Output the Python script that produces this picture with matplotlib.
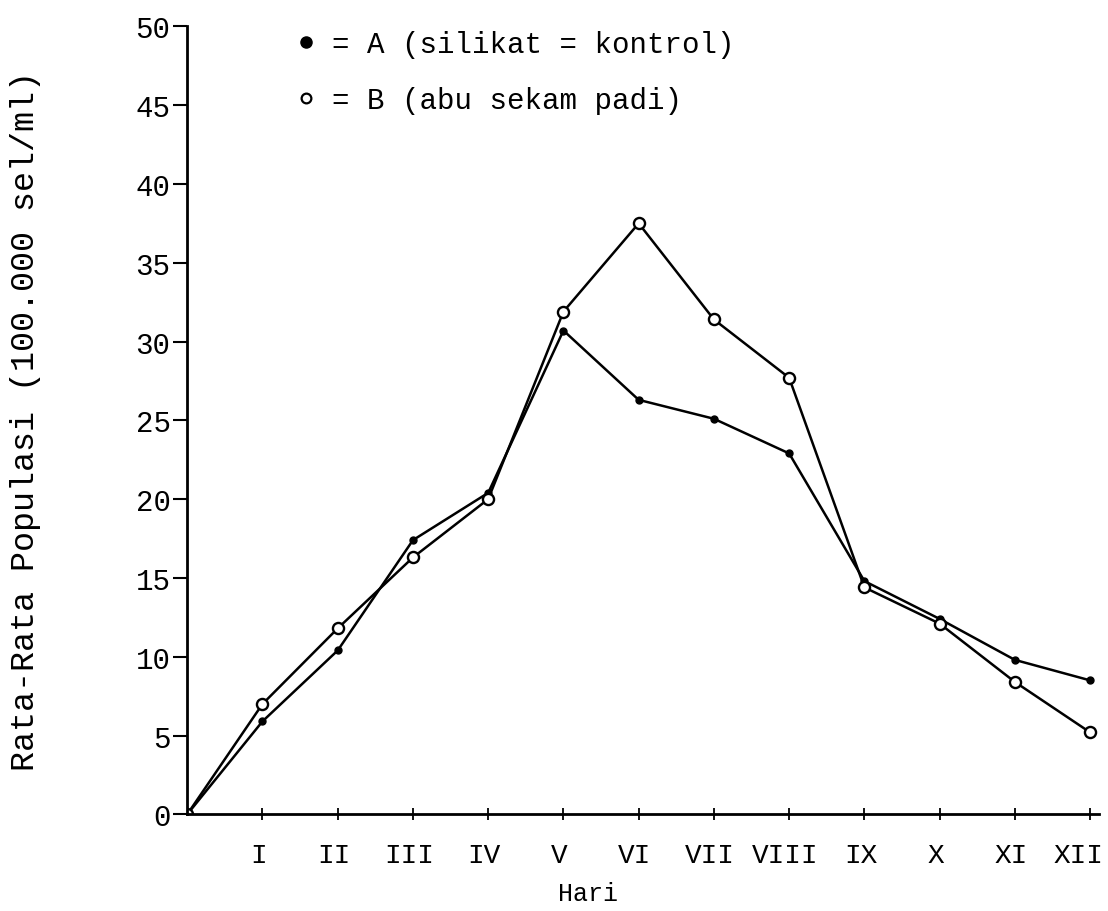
import matplotlib
matplotlib.use("Agg")
from matplotlib import pyplot as plt
from matplotlib.lines import Line2D
from matplotlib.transforms import ScaledTranslation

hari = ["I", "II", "III", "IV", "V", "VI", "VII", "VIII", "IX", "X", "XI", "XII"]
hari_pos = list(range(1, 13))

# rata-rata populasi (100.000 sel/ml), hari 0 = 0
pop_a = [0, 5.9, 10.4, 17.4, 20.4, 30.7, 26.3, 25.1, 22.9, 14.8, 12.4, 9.8, 8.5]
pop_b = [0, 7.0, 11.8, 16.3, 20.0, 31.9, 37.5, 31.4, 27.7, 14.4, 12.1, 8.4, 5.2]
hari_x = [0] + hari_pos

plt.rcParams['font.family'] = ['Liberation Mono', 'DejaVu Sans Mono']

fig = plt.figure(figsize=(11.08, 9.12), dpi=100)
ax = fig.add_axes([0.169, 0.106, 0.823, 0.864])

ax.plot(hari_x, pop_a, color="black", lw=1.8, marker="o", ms=5,
        mfc="black", mec="black")
ax.plot(hari_x, pop_b, color="black", lw=1.8, marker="o", ms=8,
        mfc="white", mec="black", mew=1.7)

ax.set_xlim(0, 12.12)
ax.set_ylim(0, 50)
ax.set_xticks(hari_pos)
ax.set_xticklabels(hari, fontsize=20)
ax.set_yticks(range(0, 51, 5))
ax.tick_params(axis="y", labelsize=21, direction="out", length=10, width=1.5, pad=2)
ax.tick_params(axis="x", direction="inout", length=8, width=1.3, pad=16)

# typed labels sit a little left of the ticks; last one pulled in to fit
shift = ScaledTranslation(-4 / 100, 0, fig.dpi_scale_trans)
for lab in ax.get_xticklabels():
    lab.set_transform(lab.get_transform() + shift)
last = ax.get_xticklabels()[-1]
last.set_transform(last.get_transform() + ScaledTranslation(-8 / 100, 0, fig.dpi_scale_trans))

for s in ["top", "right"]:
    ax.spines[s].set_visible(False)
for s in ["left", "bottom"]:
    ax.spines[s].set_linewidth(2.0)

ax.set_xlabel("Hari", fontsize=18)
ax.xaxis.set_label_coords(0.44, -0.085)
ax.set_ylabel("Rata-Rata Populasi (100.000 sel/ml)", fontsize=24)
ax.yaxis.set_label_coords(-0.16, 0.5)

handles = [
    Line2D([], [], ls="none", marker="o", ms=8, mfc="black", mec="black"),
    Line2D([], [], ls="none", marker="o", ms=7, mfc="white", mec="black", mew=1.6),
]
labels = ["= A (silikat = kontrol)", "= B (abu sekam padi)"]
ax.legend(handles, labels, loc="upper left", bbox_to_anchor=(0.117, 0.995),
          frameon=False, fontsize=21, handlelength=0.8, handletextpad=0.5,
          labelspacing=0.95, borderpad=0, borderaxespad=0)

fig.savefig("out.png", dpi=100, facecolor="white")
